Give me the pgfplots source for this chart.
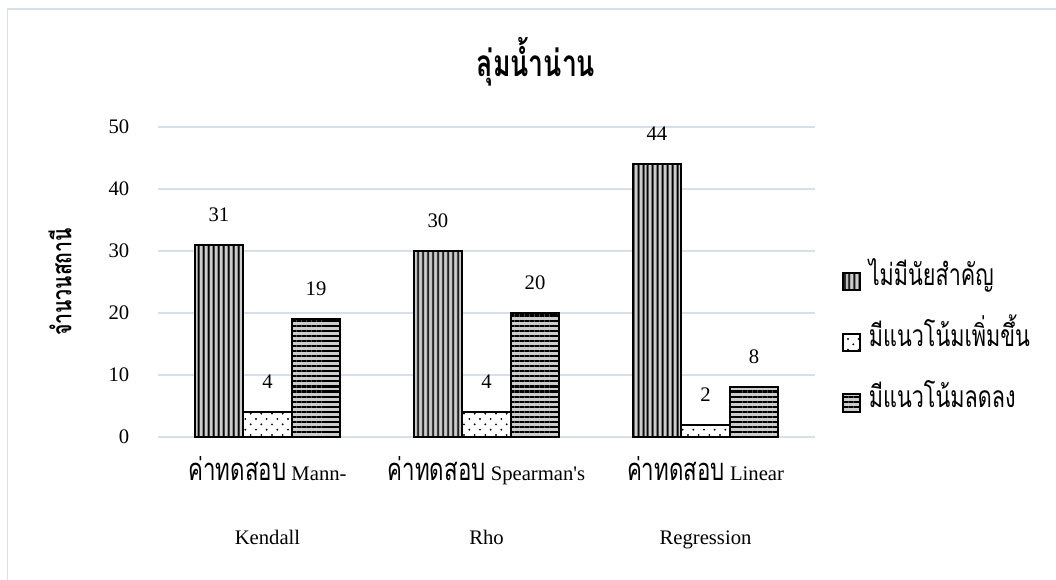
\documentclass[border=0pt]{standalone}
\usepackage{fontspec}
\setmainfont{Liberation Serif}
\newfontfamily\thai[Script=Thai,Scale=1.5,FakeStretch=0.72]{Loma}
\newfontfamily\thaib[Script=Thai,Scale=1.5,FakeStretch=0.72]{Loma Bold}
\usepackage{pgfplots}
\usepackage{pgfplotstable}
\pgfplotsset{compat=1.18}
\usetikzlibrary{patterns.meta}

\definecolor{gridc}{RGB}{217,223,232}

% station counts per test: not significant / increasing / decreasing
\pgfplotstableread{
x ns inc dec
0 31 4 19
1 30 4 20
2 44 2 8
}\datatable

\begin{document}
\begin{tikzpicture}
\useasboundingbox (0,0) rectangle (792pt,-434.25pt);
% chart frame
\draw[gridc, line width=1.2pt] (5.6pt,-440pt) -- (5.6pt,-6.75pt) -- (800pt,-6.75pt);
% title
\node[font=\thaib\fontsize{18.5pt}{22pt}\selectfont] at (402pt,-46.5pt) {ลุ่มน้ำน่าน};
% y label
\node[rotate=90, font=\thaib\fontsize{13.5pt}{16pt}\selectfont] at (45pt,-211.5pt) {จำนวนสถานี};
\begin{axis}[
  at={(118.5pt,-327.75pt)}, anchor=south west,
  scale only axis, width=492.75pt, height=232.5pt,
  xmin=-0.5, xmax=2.5, ymin=0, ymax=50,
  ytick={0,10,...,50}, xtick={0,1,2},
  xticklabels={{\thai ค่าทดสอบ\rmfamily{} Mann-\\Kendall},
               {\thai ค่าทดสอบ\rmfamily{} Spearman\textquotesingle s\\Rho},
               {\thai ค่าทดสอบ\rmfamily{} Linear\\Regression}},
  /pgf/number format/assume math mode=true,
  axis line style={draw=none},
  major tick length=0pt,
  ymajorgrids, grid style={gridc, line width=1.1pt},
  yticklabel style={font=\fontsize{15.5pt}{18pt}\selectfont, xshift=-18pt},
  xticklabel style={font=\fontsize{15.5pt}{48pt}\selectfont, align=center, yshift=-11pt},
  ybar=0pt, bar width=36.4pt,
  nodes near coords,
  every node near coord/.append style={font=\fontsize{15.5pt}{18pt}\selectfont, yshift=13.5pt, black},
  clip=false,
  legend style={at={(1.04,0.305)}, anchor=west, draw=none, fill=none,
    row sep=31pt, inner sep=0pt, column sep=6pt,
    nodes={font=\thai\fontsize{15pt}{18pt}\selectfont, text height=10pt, text depth=4pt, inner sep=0pt, right}},
  legend cell align=left,
  legend image code/.code={\draw[#1, line width=1.5pt] (0pt,-6.5pt) rectangle (13pt,6.5pt);},
]
\addplot[draw=black, line width=1.5pt, fill=gray!40,
  postaction={pattern={Lines[angle=90,distance=4pt,line width=1.6pt]}}]
  table[x=x,y=ns]{\datatable};
\addlegendentry{ไม่มีนัยสำคัญ}
\addplot[draw=black, line width=1.5pt, fill=white,
  postaction={pattern={Dots[distance=8pt,radius=0.8pt]}},
  postaction={pattern={Dots[distance=8pt,radius=0.8pt,xshift=4pt,yshift=4pt]}}]
  table[x=x,y=inc]{\datatable};
\addlegendentry{มีแนวโน้มเพิ่มขึ้น}
\addplot[draw=black, line width=1.5pt, fill=gray!40,
  postaction={pattern={Lines[angle=0,distance=3.8pt,line width=1.6pt]}}]
  table[x=x,y=dec]{\datatable};
\addlegendentry{มีแนวโน้มลดลง}
\end{axis}
\end{tikzpicture}
\end{document}
